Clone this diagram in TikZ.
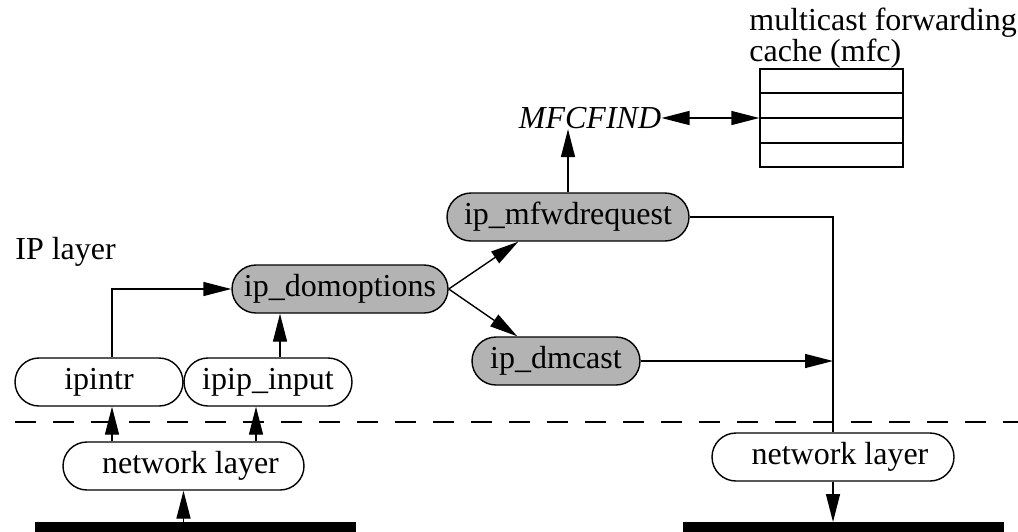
\documentclass[tikz,border=0pt]{standalone}
\usepackage{fontspec}
\setmainfont{Liberation Serif}
\usetikzlibrary{arrows.meta,calc}
\definecolor{boxgray}{RGB}{179,179,179}
\tikzset{
  lbl/.style={inner sep=0pt, font=\fontsize{16}{15.5}\selectfont},
  fn/.style={draw, line width=0.7pt, rounded corners=12pt, minimum height=24pt,
    inner sep=0pt, font=\fontsize{16}{17.5}\selectfont},
  hot/.style={fn, fill=boxgray},
  wire/.style={line width=0.7pt},
  arr/.style={wire, -{Triangle[length=14pt, width=7pt]}},
  darr/.style={wire, {Triangle[length=14pt, width=7pt]}-{Triangle[length=14pt, width=7pt]}},
  bus/.style={fill=black, inner sep=0pt, minimum height=5pt},
}
\begin{document}
\begin{tikzpicture}[x=0.5pt, y=-0.5pt]
\useasboundingbox (0,0) rectangle (1018,531);

% layer label and boundary between IP and network layers
\node[lbl, anchor=base west] (iplayer) at (15,259) {IP layer};
\draw[line width=0.7pt, dash pattern=on 10.5pt off 8.5pt] (15,422) -- (1018,422);

% input side
\node[fn, minimum width=84pt] (ipintr) at (99,382) {ipintr};
\node[fn, minimum width=84pt] (ipip) at (268,382) {ipip\_input};
\node[fn, minimum width=120.5pt] (netL) at (183.5,466) {\hspace{7pt}network layer};
\node[bus, minimum width=160.5pt, anchor=north] (busL) at (195.5,522) {};

% option processing and multicast forwarding
\node[hot, minimum width=108pt] (dom) at (340,289) {ip\_domoptions};
\node[hot, minimum width=121pt] (mfw) at (568,217) {ip\_mfwdrequest};
\node[hot, minimum width=84pt] (dmc) at (556,361) {ip\_dmcast};
\node[lbl] (find) at (590,118) {\itshape MFCFIND};

% forwarding cache table
\node[draw, line width=0.7pt, minimum width=71.5pt, minimum height=49pt, inner sep=0pt] (mfc) at (831.5,118) {};
\foreach \f in {0.25,0.5,0.75}
  \draw[wire] ($(mfc.north west)!\f!(mfc.south west)$) -- ($(mfc.north east)!\f!(mfc.south east)$);
\node[lbl, anchor=south west, align=left] (mfcname) at (749,69) {multicast forwarding\\cache (mfc)};

% output side
\node[fn, minimum width=121pt] (netR) at (833,457) {\hspace{7pt}network layer};
\node[bus, minimum width=160.5pt, anchor=north] (busR) at (843.5,522) {};

% connectors
\coordinate (xa) at (112,0);
\coordinate (xb) at (256,0);
\coordinate (xc) at (280,0);
\draw[arr] (busL.north -| netL) -- (netL.south);
\draw[arr] (netL.north -| xa) -- (ipintr.south -| xa);
\draw[arr] (netL.north -| xb) -- (ipip.south -| xb);
\draw[arr] (ipintr.north -| xa) |- (dom.west);
\draw[arr] (ipip.north -| xc) -- (dom.south -| xc);
\draw[arr] (dom.east) -- ([xshift=36pt]mfw.south west);
\draw[arr] (dom.east) -- ([xshift=23pt]dmc.north west);
\draw[arr] (mfw.north) -- (mfw.north |- find.south);
\draw[darr] (find.east) -- (find.east -| mfc.west);
\draw[wire] (mfw.east) -| (netR.north);
\draw[arr] (dmc.east) -- (dmc.east -| netR.north);
\draw[arr] (netR.south) -- (netR.south |- busR.north);
\end{tikzpicture}
\end{document}
